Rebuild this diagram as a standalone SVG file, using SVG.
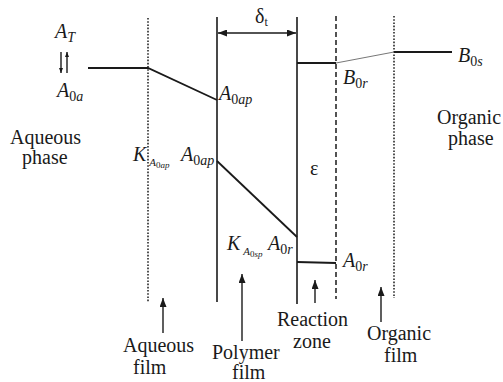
<svg xmlns="http://www.w3.org/2000/svg" width="503" height="382" viewBox="0 0 503 382">
<style>
text{font-family:"Liberation Serif","Times New Roman",serif;fill:#1a1a1a;font-size:20px}
.it{font-style:italic}
.sub{font-size:14px}
.ssub{font-size:11px}
.sssub{font-size:9px}
.up{font-style:normal}
.solid{stroke:#1a1a1a;stroke-width:1.6;fill:none}
.dot{stroke:#1a1a1a;stroke-width:1.5;stroke-dasharray:1.6,1.6;fill:none}
.dash{stroke:#1a1a1a;stroke-width:1.5;stroke-dasharray:5,3;fill:none}
.prof{stroke:#1a1a1a;stroke-width:1.8;fill:none}
.thin{stroke:#777;stroke-width:1;fill:none}
.arr{stroke:#1a1a1a;stroke-width:1.4;fill:none}
</style>
<defs>
<marker id="ah" viewBox="0 0 9 7" refX="9" refY="3.5" markerWidth="9" markerHeight="7" orient="auto" markerUnits="userSpaceOnUse"><path d="M0,0 L9,3.5 L0,7 z" fill="#1a1a1a"/></marker>
<marker id="as" viewBox="0 0 5 4" refX="5" refY="2" markerWidth="5" markerHeight="4" orient="auto" markerUnits="userSpaceOnUse"><path d="M0,0 L5,2 L0,4 z" fill="#1a1a1a"/></marker>
</defs>
<g id="boundaries">
<line class="dot" x1="148" y1="18" x2="148" y2="302"/>
<line class="solid" x1="217" y1="17" x2="217" y2="302"/>
<line class="solid" x1="297" y1="17" x2="297" y2="304"/>
<line class="dash" x1="336" y1="16" x2="336" y2="299"/>
<line class="dot" x1="394" y1="16" x2="394" y2="298"/>
</g>
<g id="profile">
<polyline class="prof" points="88,68 148,68 217,100"/>
<line class="prof" x1="217" y1="161" x2="297" y2="237"/>
<line class="prof" x1="297" y1="63" x2="336" y2="63"/>
<line class="thin" x1="336" y1="63" x2="394" y2="52"/>
<line class="prof" x1="394" y1="52" x2="452" y2="52"/>
<line class="prof" x1="297" y1="262" x2="336" y2="263"/>
</g>
<g id="connectors">
<line class="arr" x1="257" y1="33" x2="218" y2="33" marker-end="url(#ah)"/>
<line class="arr" x1="257" y1="33" x2="296" y2="33" marker-end="url(#ah)"/>
<line class="arr" x1="61" y1="52" x2="61" y2="73" stroke-width="1" marker-end="url(#as)"/>
<line class="arr" x1="67" y1="73" x2="67" y2="52" stroke-width="1" marker-end="url(#as)"/>
<line class="arr" x1="163" y1="333" x2="163" y2="298" marker-end="url(#ah)"/>
<line class="arr" x1="242" y1="341" x2="242" y2="274" marker-end="url(#ah)"/>
<line class="arr" x1="315" y1="303" x2="315" y2="280" marker-end="url(#ah)"/>
<line class="arr" x1="381" y1="322" x2="381" y2="287" marker-end="url(#ah)"/>
</g>
<g id="labels">
<text x="255" y="23">δ<tspan font-size="12" dy="3">t</tspan></text>
<text class="it" x="55" y="38">A<tspan class="sub" dy="4">T</tspan></text>
<text class="it" x="57" y="97">A<tspan class="sub" dy="4"><tspan class="up">0</tspan>a</tspan></text>
<text class="it" x="219" y="100">A<tspan class="sub" dy="4"><tspan class="up">0</tspan>ap</tspan></text>
<text class="it" x="133" y="161">K<tspan class="ssub" dx="3" dy="5">A</tspan><tspan class="sssub" dy="2"><tspan class="up">0</tspan>ap</tspan></text>
<text class="it" x="181" y="161">A<tspan class="sub" dy="4"><tspan class="up">0</tspan>ap</tspan></text>
<text class="it" x="227" y="250">K<tspan class="ssub" dx="3" dy="5">A</tspan><tspan class="sssub" dy="2"><tspan class="up">0</tspan>sp</tspan></text>
<text class="it" x="268" y="250">A<tspan class="sub" dy="4"><tspan class="up">0</tspan>r</tspan></text>
<text class="it" x="343" y="267">A<tspan class="sub" dy="4"><tspan class="up">0</tspan>r</tspan></text>
<text class="it" x="343" y="84">B<tspan class="sub" dy="4"><tspan class="up">0</tspan>r</tspan></text>
<text class="it" x="458" y="62">B<tspan class="sub" dy="4"><tspan class="up">0</tspan>s</tspan></text>
<text x="310" y="175">ε</text>
<text x="10" y="144">Aqueous</text>
<text x="22" y="164">phase</text>
<text x="437" y="124">Organic</text>
<text x="448" y="145">phase</text>
<text x="123" y="352">Aqueous</text>
<text x="133" y="374">film</text>
<text x="212" y="359">Polymer</text>
<text x="232" y="379">film</text>
<text x="277" y="326">Reaction</text>
<text x="293" y="348">zone</text>
<text x="367" y="340">Organic</text>
<text x="384" y="362">film</text>
</g>
</svg>
